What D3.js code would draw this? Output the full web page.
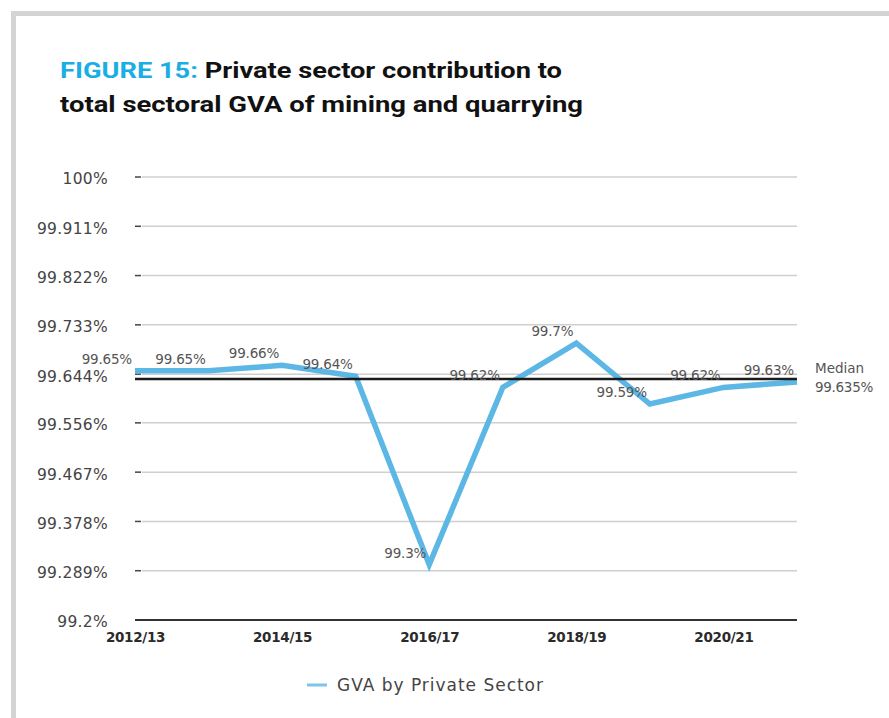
<!DOCTYPE html>
<html>
<head>
<meta charset="utf-8">
<script src="https://cdn.jsdelivr.net/npm/d3@7"></script>
<style>
  html, body { margin: 0; padding: 0; background: #fff; }
  svg { display: block; }
</style>
</head>
<body>
<svg id="chart" width="889" height="718"></svg>
<script>
// Financial years on the x axis
const years = ["2012/13", "2013/14", "2014/15", "2015/16", "2016/17",
               "2017/18", "2018/19", "2019/20", "2020/21", "2021/22"];
// Private sector share of mining and quarrying GVA (%)
const privateShare = [99.65, 99.65, 99.66, 99.64, 99.3, 99.62, 99.7, 99.59, 99.62, 99.63];
const medianValue = 99.635;
// Y axis tick values and their printed labels
const yTicks = [99.2, 99.289, 99.378, 99.467, 99.556, 99.644, 99.733, 99.822, 99.911, 100];
const yTickLabels = ["99.2%", "99.289%", "99.378%", "99.467%", "99.556%",
                     "99.644%", "99.733%", "99.822%", "99.911%", "100%"];
// Years that carry a label under the axis
const xTickYears = ["2012/13", "2014/15", "2016/17", "2018/19", "2020/21"];

const svg = d3.select("#chart");
const W = 889, H = 718;
const plot = { left: 135, right: 797, top: 177, bottom: 620 };
const blue = "#5db7e5";
const bodyFont = "'DejaVu Sans', sans-serif";

// Grey frame on the top and left edges
svg.append("rect").attr("x", 11).attr("y", 11).attr("width", W).attr("height", 5).attr("fill", "#d3d4d5");
svg.append("rect").attr("x", 11).attr("y", 11).attr("width", 5).attr("height", H).attr("fill", "#d3d4d5");

// Title
const title = svg.append("g").attr("font-family", "Roboto, sans-serif").attr("font-weight", 700).attr("font-size", 21.5);
const t1 = title.append("text").attr("x", 60).attr("y", 78)
  .attr("textLength", 502).attr("lengthAdjust", "spacingAndGlyphs");
t1.append("tspan").attr("fill", "#1aaee5").text("FIGURE 15: ");
t1.append("tspan").attr("fill", "#111").text("Private sector contribution to");
title.append("text").attr("x", 60).attr("y", 112).attr("fill", "#111")
  .attr("textLength", 523).attr("lengthAdjust", "spacingAndGlyphs")
  .text("total sectoral GVA of mining and quarrying");

// Scales
const x = d3.scalePoint().domain(years).range([plot.left, plot.right]);
const y = d3.scaleLinear().domain([99.2, 100]).range([plot.bottom, plot.top]);

// Horizontal gridlines with short dark ticks at the left end
const grid = svg.append("g");
yTicks.filter(v => v !== 99.2).forEach(v => {
  grid.append("line").attr("x1", plot.left + 7).attr("x2", plot.right)
    .attr("y1", y(v)).attr("y2", y(v)).attr("stroke", "#cfcfcf").attr("stroke-width", 1.5);
  grid.append("line").attr("x1", plot.left).attr("x2", plot.left + 6)
    .attr("y1", y(v)).attr("y2", y(v)).attr("stroke", "#444").attr("stroke-width", 1.5);
});

// Y axis labels
const yAxis = d3.axisLeft(y).tickValues(yTicks)
  .tickFormat((d, i) => yTickLabels[i]).tickSize(0).tickPadding(0);
const yG = svg.append("g").attr("transform", `translate(${plot.left - 27},0)`).call(yAxis);
yG.select(".domain").remove();
yG.selectAll("text").attr("font-family", bodyFont).attr("font-size", 15.5)
  .attr("fill", "#444").attr("letter-spacing", 0.3).attr("dy", "0.45em");

// Baseline axis at 99.2%
svg.append("line").attr("x1", plot.left).attr("x2", plot.right)
  .attr("y1", y(99.2)).attr("y2", y(99.2)).attr("stroke", "#333").attr("stroke-width", 2);

// X axis labels
const xAxis = d3.axisBottom(x).tickValues(xTickYears).tickSize(0).tickPadding(0);
const xG = svg.append("g").attr("transform", `translate(0,${plot.bottom + 9})`).call(xAxis);
xG.select(".domain").remove();
xG.selectAll("text").attr("font-family", bodyFont).attr("font-weight", 700)
  .attr("font-size", 13.5).attr("fill", "#2a2a2a").attr("letter-spacing", -0.3).attr("dy", "0.95em");

// Private sector series
const line = d3.line().x((d, i) => x(years[i])).y(d => y(d));
svg.append("path").datum(privateShare).attr("d", line)
  .attr("fill", "none").attr("stroke", blue).attr("stroke-width", 5.5).attr("stroke-linejoin", "miter");

// Median reference line
svg.append("line").attr("x1", plot.left).attr("x2", plot.right)
  .attr("y1", y(medianValue)).attr("y2", y(medianValue)).attr("stroke", "#1b1b1b").attr("stroke-width", 2.5);
const medLabel = svg.append("g").attr("font-family", bodyFont).attr("font-size", 13.5)
  .attr("fill", "#555").attr("letter-spacing", 0);
medLabel.append("text").attr("x", plot.right + 18).attr("y", y(medianValue) - 6).text("Median");
medLabel.append("text").attr("x", plot.right + 18).attr("y", y(medianValue) + 13)
  .attr("letter-spacing", -0.3)
  .text(d3.format(".3f")(medianValue) + "%");

// Value labels above each point
svg.append("g").selectAll("text").data(privateShare).join("text")
  .attr("x", (d, i) => x(years[i]) - 3)
  .attr("y", d => y(d) - 7)
  .attr("text-anchor", "end")
  .attr("font-family", bodyFont).attr("font-size", 13.5)
  .attr("letter-spacing", -0.2)
  .attr("fill", "#555")
  .text(d => d + "%");

// Legend
const legend = svg.append("g");
legend.append("line").attr("x1", 307).attr("x2", 327).attr("y1", 685).attr("y2", 685)
  .attr("stroke", "#7cc4ea").attr("stroke-width", 3);
legend.append("text").attr("x", 337).attr("y", 691)
  .attr("font-family", bodyFont).attr("font-size", 17).attr("fill", "#444")
  .attr("textLength", 206).attr("lengthAdjust", "spacing")
  .text("GVA by Private Sector");
</script>
</body>
</html>
